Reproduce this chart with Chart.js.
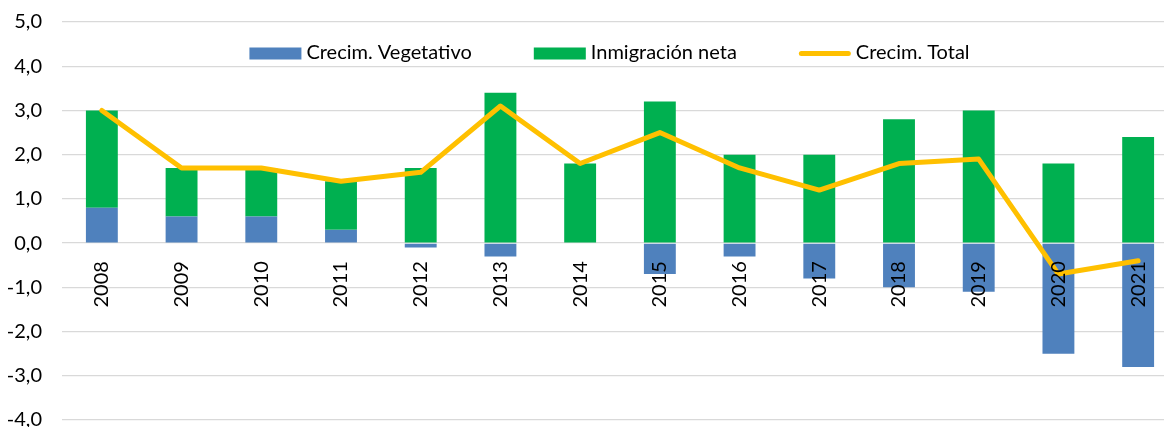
<!DOCTYPE html>
<html>
<head>
<meta charset="utf-8">
<script src="https://cdn.jsdelivr.net/npm/chart.js@4.4.1/dist/chart.umd.min.js"></script>
<style>
  html, body { margin: 0; padding: 0; background: #fff; overflow: hidden; }
  #wrap { width: 1164px; height: 427px; overflow: hidden; position: relative; }
</style>
</head>
<body>
<div id="wrap"><canvas id="c" width="1178" height="451"></canvas></div>
<script>
const years = ['2008','2009','2010','2011','2012','2013','2014','2015','2016','2017','2018','2019','2020','2021'];
const crecimVegetativo = [0.8, 0.6, 0.6, 0.3, -0.1, -0.3, 0.0, -0.7, -0.3, -0.8, -1.0, -1.1, -2.5, -2.8];
const inmigracionNeta  = [2.2, 1.1, 1.1, 1.1, 1.7, 3.4, 1.8, 3.2, 2.0, 2.0, 2.8, 3.0, 1.8, 2.4];
const crecimTotal      = [3.0, 1.7, 1.7, 1.4, 1.6, 3.1, 1.8, 2.5, 1.7, 1.2, 1.8, 1.9, -0.7, -0.4];
const seriesNames = ['Crecim. Vegetativo', 'Inmigración neta', 'Crecim. Total'];
const yTicks = { min: -4, max: 5, step: 1 };

const FONT = 'Lato, "Liberation Sans", sans-serif';
const FS = 20;

const customLegend = {
  id: 'customLegend',
  afterDraw(chart) {
    const ctx = chart.ctx;
    ctx.save();
    ctx.font = `${FS}px ${FONT}`;
    ctx.textBaseline = 'middle';
    ctx.textAlign = 'left';
    const boxW = 52, boxH = 12, gapText = 5, gapItem = 62;
    const ds = chart.data.datasets;
    const widths = ds.map(d => boxW + gapText + ctx.measureText(d.label).width);
    const total = widths.reduce((a, b) => a + b, 0) + gapItem * (ds.length - 1);
    const centerX = (chart.chartArea.left + chart.chartArea.right) / 2 - 10.5;
    const cy = 53.5;
    let x = centerX - total / 2;
    ds.forEach((d, i) => {
      if (d.type === 'line') {
        ctx.strokeStyle = d.borderColor;
        ctx.lineWidth = 5;
        ctx.lineCap = 'round';
        ctx.beginPath();
        ctx.moveTo(x + 2.5, cy);
        ctx.lineTo(x + boxW - 2.5, cy);
        ctx.stroke();
      } else {
        ctx.fillStyle = d.backgroundColor;
        ctx.fillRect(x, cy - boxH / 2, boxW, boxH);
      }
      ctx.fillStyle = '#000';
      ctx.fillText(d.label, x + boxW + gapText, cy - 1);
      x += widths[i] + gapItem;
    });
    ctx.restore();
  }
};

new Chart(document.getElementById('c'), {
  data: {
    labels: years,
    datasets: [
      { type: 'bar', label: seriesNames[0], data: crecimVegetativo, backgroundColor: '#4F81BD', borderWidth: 0, stack: 'bars', order: 2 },
      { type: 'bar', label: seriesNames[1], data: inmigracionNeta, backgroundColor: '#00B050', borderWidth: 0, stack: 'bars', order: 2 },
      { type: 'line', label: seriesNames[2], data: crecimTotal, borderColor: '#FFC000', backgroundColor: '#FFC000', borderWidth: 5, pointRadius: 0, tension: 0, borderJoinStyle: 'round', borderCapStyle: 'round', stack: 'line', order: 0 }
    ]
  },
  options: {
    responsive: false,
    animation: false,
    devicePixelRatio: 1,
    layout: { padding: { top: 22, bottom: 31, left: 0, right: 0 } },
    plugins: { legend: { display: false }, tooltip: { enabled: false } },
    datasets: { bar: { categoryPercentage: 0.4, barPercentage: 1 } },
    scales: {
      x: {
        stacked: true,
        position: { y: 0 },
        grid: { display: false, drawTicks: false },
        border: { display: false },
        ticks: { z: 1, autoSkip: false, minRotation: 90, maxRotation: 90, padding: 18, color: '#000', font: { family: FONT, size: FS } },
        afterFit(scale) { scale.height = 0; scale.paddingRight = 0; scale.paddingLeft = 0; scale.paddingTop = 0; scale.paddingBottom = 0; }
      },
      y: {
        stacked: true,
        min: yTicks.min,
        max: yTicks.max,
        grid: { color: '#d9d9d9', lineWidth: 1.3, drawTicks: false },
        border: { display: false },
        ticks: {
          stepSize: yTicks.step,
          padding: 20,
          color: '#000',
          font: { family: FONT, size: FS },
          callback: v => v.toFixed(1).replace('.', ',')
        },
        afterFit(scale) { scale.width = 62; scale.paddingTop = 0; scale.paddingBottom = 0; }
      }
    }
  },
  plugins: [customLegend]
});
</script>
</body>
</html>
